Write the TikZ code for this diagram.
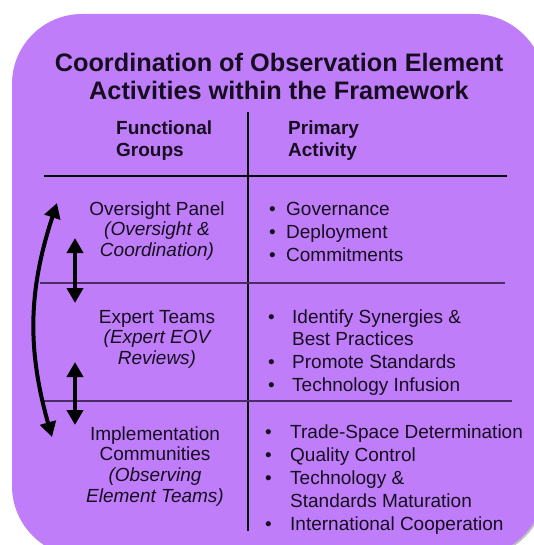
\documentclass[tikz,border=0pt]{standalone}
\usepackage{fontspec}
\setmainfont{Liberation Sans}
\usetikzlibrary{arrows.meta, positioning, shadows}

\definecolor{panelfill}{RGB}{191,125,249}
\definecolor{ruleline}{RGB}{72,45,98}
\definecolor{inkdark}{RGB}{22,14,32}

\tikzset{
  panel/.style={fill=panelfill, rounded corners=70pt,
    drop shadow={shadow xshift=1.5pt, shadow yshift=-1.5pt, opacity=0.35, fill=black!70}},
  titletext/.style={font=\fontsize{25.3}{28}\selectfont\bfseries, anchor=base, inner sep=0pt, text=inkdark},
  heading/.style={font=\fontsize{19}{22}\selectfont\bfseries, anchor=base west, inner sep=0pt, text=inkdark},
  group/.style={font=\fontsize{19}{20.7}\selectfont, anchor=base, inner sep=0pt, text=inkdark},
  activity/.style={font=\fontsize{19}{23}\selectfont, anchor=base west, inner sep=0pt, text=inkdark},
  mainrule/.style={line width=2.5pt, black},
  rowrule/.style={line width=1.2pt, ruleline},
  link/.style={line width=4pt, black, <->}
}
\newcommand{\actdot}[1]{\llap{\textbullet\hspace{#1}}}

\begin{document}
\begin{tikzpicture}[x=1pt, y=-1pt, >={Triangle[width=16pt, length=15pt]}]
  \useasboundingbox (0,0) rectangle (534,545);
  \path[panel] (12,14) rectangle (544,556);

  % title and column heads
  \node[titletext] (title) at (279,72)
    {\begin{tabular}[t]{@{}c@{}}Coordination of Observation Element\\Activities within the Framework\end{tabular}};
  \node[heading] (fgroups) at (116,135)
    {\begin{tabular}[t]{@{}l@{}}Functional\\Groups\end{tabular}};
  \node[heading] (pactivity) at (288,135)
    {\begin{tabular}[t]{@{}l@{}}Primary\\Activity\end{tabular}};

  % table rules
  \draw[mainrule] (248,112) -- (248,531);
  \draw[mainrule] (44,176) -- (507,176);
  \draw[rowrule] (40,283) -- (505,283);
  \draw[rowrule] (42,401) -- (512,401);

  % functional groups
  \node[group] (oversight) at (157,215)
    {\begin{tabular}[t]{@{}c@{}}Oversight Panel\\\itshape(Oversight \&\\\itshape Coordination)\end{tabular}};
  \node[group] (expert) at (157,323)
    {\begin{tabular}[t]{@{}c@{}}Expert Teams\\\itshape(Expert EOV\\\itshape Reviews)\end{tabular}};
  \node[group] (implement) at (155,440)
    {\begin{tabular}[t]{@{}c@{}}Implementation\\Communities\\\itshape(Observing\\\itshape Element Teams)\end{tabular}};

  % primary activities
  \node[activity] (govern) at (286,215)
    {\begin{tabular}[t]{@{}l@{}}\actdot{10.5pt}Governance\\\actdot{10.5pt}Deployment\\\actdot{10.5pt}Commitments\end{tabular}};
  \node[activity] (identify) at (292,323)
    {\begin{tabular}[t]{@{}l@{}}\actdot{17.5pt}Identify Synergies \&\\[-1pt]Best Practices\\\actdot{17.5pt}Promote Standards\\\actdot{17.5pt}Technology Infusion\end{tabular}};
  \node[activity] (tradespace) at (290,438)
    {\begin{tabular}[t]{@{}l@{}}\actdot{18.5pt}Trade-Space Determination\\\actdot{18.5pt}Quality Control\\\actdot{18.5pt}Technology \&\\Standards Maturation\\\actdot{18.5pt}International Cooperation\end{tabular}};

  % arrows between the groups
  \coordinate (op top) at (57,203);
  \coordinate (ic bottom) at (52,437);
  \coordinate (op low) at (75,238);
  \coordinate (et high) at (75,303);
  \coordinate (et low) at (75,362);
  \coordinate (ic high) at (75,425);

  \path[link]
  (op low) edge (et high)
  (et low) edge (ic high)
  (op top) edge [bend right=17] (ic bottom)
  ;
\end{tikzpicture}
\end{document}
